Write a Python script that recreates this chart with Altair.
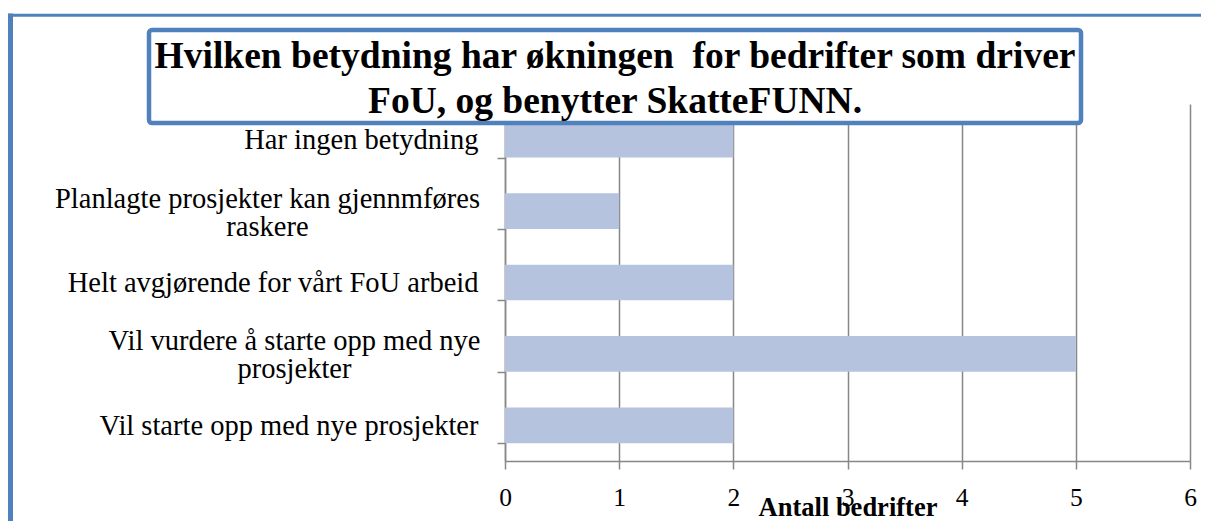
import altair as alt
import pandas as pd

categories = [
    "Har ingen betydning",
    "Planlagte prosjekter kan gjennmføres raskere",
    "Helt avgjørende for vårt FoU arbeid",
    "Vil vurdere å starte opp med nye prosjekter",
    "Vil starte opp med nye prosjekter",
]
values = [2, 1, 2, 5, 2]
wrapped = {
    "Planlagte prosjekter kan gjennmføres raskere": ["Planlagte prosjekter kan gjennmføres", "raskere"],
    "Vil vurdere å starte opp med nye prosjekter": ["Vil vurdere å starte opp med nye", "prosjekter"],
}
x_ticks = [0, 1, 2, 3, 4, 5, 6]
title_lines = ["Hvilken betydning har økningen\u00a0 for bedrifter som driver",
               "FoU, og benytter SkatteFUNN."]
x_title = "Antall bedrifter"

df = pd.DataFrame({"kategori": categories, "antall": values})

SERIF = "Liberation Serif"
BLUE = "#4f81bd"
GRAY = "#878787"

# label expression for wrapped labels
parts = []
for k, v in wrapped.items():
    arr = "[" + ",".join("'" + s + "'" for s in v) + "]"
    parts.append(f"datum.value == '{k}' ? {arr}")
label_expr = " : ".join(parts) + " : datum.label"

pad_parts = {
    "Planlagte prosjekter kan gjennmføres raskere": 230,
    "Vil vurdere å starte opp med nye prosjekter": 203,
}
pad_expr_test = " || ".join(f"datum.value == '{k}'" for k in wrapped)

bars = alt.Chart(df).mark_bar(color="#b5c3de").encode(
    x=alt.X(
        "antall:Q",
        scale=alt.Scale(domain=[0, 6], nice=False),
        axis=alt.Axis(
            values=x_ticks,
            title=x_title,
            titleFont=SERIF,
            titleFontSize=26.5,
            titleFontWeight="bold",
            titleColor="black",
            titleY=54,
            titleBaseline="alphabetic",
            labelFont=SERIF,
            labelFontSize=25.5,
            labelColor="black",
            labelPadding=16,
            tickSize=8,
            tickColor=GRAY,
            tickWidth=1.5,
            domainColor=GRAY,
            domainWidth=1.5,
            gridColor=GRAY,
            gridWidth=1.5,
            grid=True,
            labelFlush=False,
        ),
    ),
    y=alt.Y(
        "kategori:N",
        sort=categories,
        scale=alt.Scale(paddingInner=0.5, paddingOuter=0.25),
        axis=alt.Axis(
            title=None,
            grid=False,
            labelExpr=label_expr,
            labelFont=SERIF,
            labelFontSize=28.5,
            labelColor="black",
            labelLineHeight=28,
            labelLimit=1000,
            labelAlign={"condition": {"test": pad_expr_test, "value": "center"}, "value": "right"},
            labelOffset={"condition": {"test": pad_expr_test, "value": -13}, "value": 0},
            labelPadding={
                "condition": [
                    {"test": f"datum.value == '{k}'", "value": v} for k, v in pad_parts.items()
                ],
                "value": 19,
            },
            tickBand="extent",
            tickSize=8,
            tickColor=GRAY,
            tickWidth=1.5,
            domainColor=GRAY,
            domainWidth=1.5,
        ),
    ),
)

one = alt.Data(values=[{}])

box = alt.Chart(one).mark_rect(
    fill="white", stroke=BLUE, strokeWidth=4.5, cornerRadius=3
).encode(
    x=alt.value(-356), x2=alt.value(576), y=alt.value(-74), y2=alt.value(19)
)

title = alt.Chart(one).mark_text(
    text=title_lines, font=SERIF, fontSize=37.5, fontWeight="bold", color="black",
    align="center", baseline="alphabetic", lineHeight=45,
).encode(x=alt.value(110), y=alt.value(-36))

left_border = alt.Chart(one).mark_rule(color=BLUE, strokeWidth=5).encode(
    x=alt.value(-494.5), y=alt.value(-90.5), y2=alt.value(450)
)
top_border = alt.Chart(one).mark_rule(color=BLUE, strokeWidth=3).encode(
    x=alt.value(-497), x2=alt.value(720), y=alt.value(-88.7)
)

chart = alt.layer(bars, box, title, left_border, top_border).properties(
    width=685,
    height=357,
    autosize=alt.AutoSizeParams(type="none"),
    padding={"left": 497, "top": 96, "right": 11, "bottom": 60},
    background="white",
).configure_view(stroke=None)

chart.save("out.html", embed_options={"renderer": "svg", "actions": False})
